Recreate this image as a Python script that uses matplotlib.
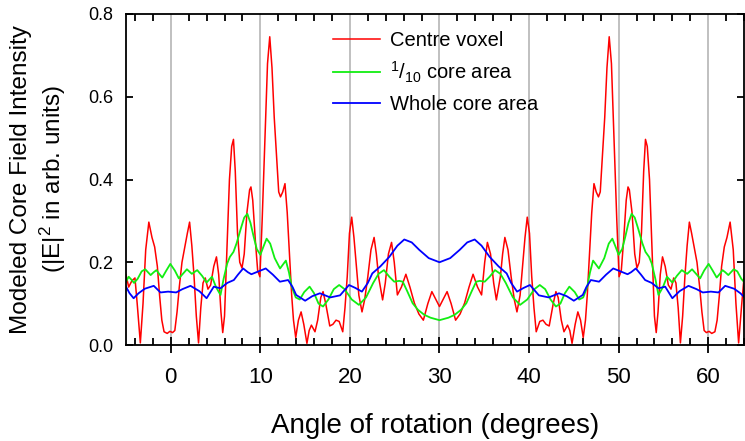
import matplotlib
matplotlib.use("Agg")
import matplotlib.pyplot as plt
from matplotlib.ticker import MultipleLocator

plt.rcParams['font.family'] = ['Liberation Sans', 'DejaVu Sans']
plt.rcParams['mathtext.default'] = 'regular'

# -----------------------------------
# DATA
# -----------------------------------
centre_x = [-5.0, -4.7, -4.35, -4.0, -3.75, -3.4, -3.1, -2.8, -2.45, -2.1, -1.8, -1.5, -1.25, -1.0,
            -0.75, -0.4, -0.1, 0.2, 0.45, 0.7, 0.95, 1.25, 1.55, 1.85, 2.1, 2.35, 2.6, 2.85, 3.1,
            3.35, 3.6, 3.85, 4.15, 4.45, 4.8, 5.1, 5.35, 5.6, 5.8, 6.0, 6.3, 6.55, 6.8, 7.0, 7.2,
            7.45, 7.7, 7.95, 8.2, 8.5, 8.8, 8.95, 9.15, 9.45, 9.7, 9.95, 10.2, 10.5, 10.8, 11.05,
            11.3, 11.55, 11.8, 12.05, 12.25, 12.5, 12.75, 13.0, 13.25, 13.5, 13.7, 13.95, 14.25,
            14.55, 14.85, 15.2, 15.45, 15.7, 16.1, 16.4, 16.75, 17.0, 17.3, 17.75, 18.1, 18.45,
            18.8, 19.2, 19.45, 19.7, 19.95, 20.2, 20.45, 20.7, 21.0, 21.35, 21.65, 22.0, 22.35,
            22.7, 22.95, 23.2, 23.65, 23.95, 24.3, 24.65, 24.95, 25.3, 25.75, 26.25, 26.7, 27.2,
            27.7, 28.2, 28.7, 29.15, 29.6, 30.0,
            30.4, 30.85, 31.3, 31.8, 32.3, 32.8, 33.3, 33.75, 34.25, 34.7, 35.05, 35.35, 35.7,
            36.05, 36.35, 36.8, 37.05, 37.3, 37.65, 38.0, 38.35, 38.65, 39.0, 39.3, 39.55, 39.8,
            40.05, 40.3, 40.55, 40.8, 41.2, 41.55, 41.9, 42.25, 42.7, 43.0, 43.25, 43.6, 43.9,
            44.3, 44.55, 44.8, 45.15, 45.45, 45.75, 46.05, 46.3, 46.5, 46.75, 47.0, 47.25, 47.5,
            47.75, 47.95, 48.2, 48.45, 48.7, 48.95, 49.2, 49.5, 49.8, 50.05, 50.3, 50.55, 50.85,
            51.05, 51.2, 51.5, 51.8, 52.05, 52.3, 52.55, 52.8, 53.0, 53.2, 53.45, 53.7, 54.0,
            54.2, 54.4, 54.65, 54.9, 55.2, 55.55, 55.85, 56.15, 56.4, 56.65, 56.9, 57.15, 57.4,
            57.65, 57.9, 58.15, 58.45, 58.75, 59.05, 59.3, 59.55, 59.8, 60.1, 60.4, 60.75, 61.0,
            61.25, 61.5, 61.8, 62.1, 62.45, 62.8, 63.1, 63.4, 63.75, 64.0, 64.35]
centre_y = [0.17, 0.14, 0.155, 0.162, 0.10, 0.005, 0.10, 0.23, 0.297, 0.26, 0.237, 0.19, 0.12, 0.06,
            0.032, 0.028, 0.033, 0.03, 0.035, 0.08, 0.14, 0.2, 0.235, 0.27, 0.297, 0.24, 0.165, 0.07,
            0.005, 0.09, 0.15, 0.162, 0.135, 0.145, 0.19, 0.213, 0.17, 0.08, 0.03, 0.07, 0.25, 0.4,
            0.48, 0.497, 0.42, 0.27, 0.2, 0.186, 0.22, 0.32, 0.375, 0.382, 0.35, 0.25, 0.18, 0.165,
            0.3, 0.488, 0.68, 0.745, 0.67, 0.55, 0.46, 0.37, 0.358, 0.37, 0.39, 0.32, 0.22, 0.12,
            0.06, 0.018, 0.06, 0.08, 0.05, 0.004, 0.035, 0.048, 0.032, 0.06, 0.115, 0.129, 0.1,
            0.046, 0.05, 0.06, 0.057, 0.032, 0.09, 0.165, 0.27, 0.309, 0.26, 0.195, 0.12, 0.08,
            0.11, 0.165, 0.23, 0.26, 0.22, 0.165, 0.109, 0.15, 0.22, 0.248, 0.2, 0.121, 0.14,
            0.171, 0.14, 0.101, 0.075, 0.06, 0.1, 0.129, 0.11, 0.093,
            0.11, 0.129, 0.1, 0.06, 0.075, 0.101, 0.14, 0.171, 0.14, 0.121, 0.2, 0.248, 0.22,
            0.15, 0.109, 0.165, 0.22, 0.26, 0.23, 0.165, 0.11, 0.08, 0.12, 0.195, 0.26, 0.309,
            0.27, 0.165, 0.09, 0.032, 0.057, 0.06, 0.05, 0.046, 0.1, 0.129, 0.115, 0.06, 0.032,
            0.048, 0.035, 0.004, 0.05, 0.08, 0.06, 0.018, 0.06, 0.12, 0.22, 0.32, 0.39, 0.37,
            0.358, 0.37, 0.46, 0.55, 0.67, 0.745, 0.68, 0.488, 0.3, 0.165, 0.18, 0.25, 0.35,
            0.382, 0.375, 0.32, 0.22, 0.186, 0.2, 0.27, 0.42, 0.497, 0.48, 0.4, 0.25, 0.07,
            0.03, 0.08, 0.17, 0.213, 0.19, 0.145, 0.135, 0.162, 0.15, 0.09, 0.005, 0.07, 0.165,
            0.24, 0.297, 0.27, 0.235, 0.2, 0.14, 0.08, 0.035, 0.03, 0.033, 0.028, 0.032, 0.06,
            0.12, 0.19, 0.237, 0.26, 0.297, 0.23, 0.10, 0.005, 0.10, 0.162, 0.155]

tenth_x = [-5.0, -4.7, -4.4, -4.1, -3.7, -3.25, -2.85, -2.55, -2.25, -1.9, -1.6, -1.3, -0.95, -0.5,
           -0.05, 0.45, 0.9, 1.35, 1.8, 2.35, 2.95, 3.5, 4.0, 4.6, 5.05, 5.55, 5.9, 6.3, 6.6, 7.0,
           7.35, 7.8, 8.2, 8.55, 8.9, 9.25, 9.6, 10.0, 10.35, 10.7, 11.1, 11.6, 12.2, 12.85, 13.2,
           13.5, 13.95, 14.4, 14.9, 15.5, 16.0, 16.5, 17.0, 17.6, 18.2, 18.8, 19.4, 20.2, 21.0,
           21.8, 22.6, 23.2, 23.8, 24.4, 24.95, 25.5, 25.9, 26.4, 27.0, 27.6, 28.3, 29.0, 30.0,
           31.0, 31.7, 32.4, 33.0, 33.6, 34.1, 34.5, 35.05, 35.6, 36.2, 36.8, 37.4, 38.2, 39.0,
           39.8, 40.6, 41.2, 41.8, 42.4, 43.0, 43.5, 44.0, 44.5, 45.1, 45.6, 46.05, 46.5, 46.8,
           47.15, 47.8, 48.4, 48.9, 49.3, 49.65, 50.0, 50.4, 50.75, 51.1, 51.45, 51.8, 52.2,
           52.65, 53.0, 53.4, 53.7, 54.1, 54.45, 54.95, 55.4, 56.0, 56.5, 57.05, 57.65, 58.2,
           58.65, 59.1, 59.55, 60.05, 60.5, 60.95, 61.3, 61.6, 61.9, 62.25, 62.55, 62.85, 63.25,
           63.7, 64.1]
tenth_y = [0.153, 0.165, 0.158, 0.15, 0.16, 0.178, 0.183, 0.176, 0.169, 0.176, 0.181, 0.172, 0.163,
           0.18, 0.196, 0.18, 0.161, 0.172, 0.183, 0.172, 0.181, 0.167, 0.151, 0.165, 0.14, 0.121,
           0.16, 0.197, 0.213, 0.225, 0.246, 0.28, 0.308, 0.317, 0.295, 0.262, 0.232, 0.218, 0.238,
           0.257, 0.245, 0.21, 0.185, 0.204, 0.175, 0.141, 0.115, 0.11, 0.128, 0.141, 0.125, 0.1,
           0.093, 0.11, 0.135, 0.145, 0.135, 0.11, 0.097, 0.115, 0.15, 0.172, 0.181, 0.165, 0.153,
           0.155, 0.153, 0.13, 0.101, 0.085, 0.073, 0.066, 0.06,
           0.066, 0.073, 0.085, 0.101, 0.13, 0.153, 0.155, 0.153, 0.165, 0.181, 0.172, 0.15,
           0.115, 0.097, 0.11, 0.135, 0.145, 0.135, 0.11, 0.093, 0.1, 0.125, 0.141, 0.128, 0.11,
           0.115, 0.141, 0.175, 0.204, 0.185, 0.21, 0.245, 0.257, 0.238, 0.218, 0.232, 0.262,
           0.295, 0.317, 0.308, 0.28, 0.246, 0.225, 0.213, 0.197, 0.16, 0.121, 0.14, 0.165,
           0.151, 0.167, 0.181, 0.172, 0.183, 0.172, 0.161, 0.18, 0.196, 0.18, 0.163, 0.172,
           0.181, 0.176, 0.169, 0.176, 0.183, 0.178, 0.16, 0.15]

whole_x = [-5.0, -4.6, -4.15, -3.6, -2.9, -1.9, -1.15, -0.3, 0.6, 1.3, 2.2, 3.2, 4.0, 4.8, 5.55,
           6.3, 7.04, 7.5, 8.08, 8.6, 9.0, 9.8, 10.6, 11.4, 12.18, 13.1, 13.6, 14.0, 15.0, 15.8,
           16.65, 17.8, 18.9, 19.9, 20.6, 21.34, 22.0, 22.5, 23.4, 24.4, 25.3, 26.07, 26.9, 27.74,
           28.8, 30.0, 31.2, 32.26, 33.1, 33.93, 34.7, 35.6, 36.6, 37.5, 38.0, 38.66, 39.4, 40.1,
           41.1, 42.2, 43.35, 44.2, 45.0, 46.0, 46.4, 46.9, 47.82, 48.6, 49.4, 50.2, 51.0, 51.4,
           51.92, 52.5, 52.96, 53.7, 54.45, 55.2, 56.0, 56.8, 57.8, 58.7, 59.4, 60.3, 61.15,
           61.9, 62.9, 63.6, 64.15]
whole_y = [0.141, 0.125, 0.113, 0.125, 0.136, 0.143, 0.127, 0.129, 0.127, 0.135, 0.143, 0.13, 0.113,
           0.141, 0.137, 0.15, 0.157, 0.17, 0.185, 0.176, 0.171, 0.178, 0.185, 0.17, 0.153, 0.157,
           0.14, 0.121, 0.107, 0.118, 0.125, 0.115, 0.12, 0.145, 0.138, 0.129, 0.15, 0.173, 0.19,
           0.213, 0.24, 0.255, 0.248, 0.23, 0.21, 0.2, 0.21, 0.23, 0.248, 0.255, 0.24, 0.213, 0.19,
           0.173, 0.15, 0.129, 0.138, 0.145, 0.12, 0.115, 0.125, 0.118, 0.107, 0.121, 0.14, 0.157,
           0.153, 0.17, 0.185, 0.178, 0.171, 0.176, 0.185, 0.17, 0.157, 0.15, 0.137, 0.141, 0.113,
           0.13, 0.143, 0.135, 0.127, 0.129, 0.127, 0.143, 0.136, 0.125, 0.113]

x_ticks = [0, 10, 20, 30, 40, 50, 60]
y_ticks = [0.0, 0.2, 0.4, 0.6, 0.8]

# -----------------------------------
# PLOT
# -----------------------------------
fig = plt.figure(figsize=(7.45, 4.41), dpi=100)
ax = fig.add_axes([126 / 745, 96 / 441, 618 / 745, 331 / 441])

for xt in x_ticks:
    ax.axvline(xt, color="#c0c0c0", lw=1.4, zorder=0)

ax.plot(centre_x, centre_y, color="#ff0000", lw=1.1, label="Centre voxel")
ax.plot(tenth_x, tenth_y, color="#11ee11", lw=1.3, label=r"$^{1}$/$_{10}$ core area")
ax.plot(whole_x, whole_y, color="#0000ff", lw=1.3, label="Whole core area")

ax.set_xlim(-5, 64)
ax.set_ylim(0, 0.8)
ax.set_xticks(x_ticks)
ax.set_yticks(y_ticks)
ax.xaxis.set_minor_locator(MultipleLocator(2))
ax.set_yticklabels(["0.0", "0.2", "0.4", "0.6", "0.8"])

for s in ax.spines.values():
    s.set_linewidth(1.3)

ax.tick_params(axis="x", which="major", direction="inout", length=12, width=1.3,
               top=False, pad=10, labelsize=16)
ax.tick_params(axis="x", which="minor", direction="in", length=5, width=1.3, top=True)
ax.tick_params(axis="y", which="major", direction="in", length=5, width=1.3,
               right=True, pad=9, labelsize=13)

ax.set_xlabel("Angle of rotation (degrees)", fontsize=20, labelpad=18)
ax.set_ylabel("Modeled Core Field Intensity\n" + r"(|E|$^{2}$ in arb. units)", fontsize=17.5,
              linespacing=1.25)
ax.yaxis.set_label_coords(-0.094, 0.5)

ax.legend(loc="upper left", bbox_to_anchor=(0.335, 0.95), frameon=False, fontsize=14.5,
          borderpad=0, borderaxespad=0, handlelength=2.35, handletextpad=0.5,
          labelspacing=0.5)

fig.savefig("out.png", dpi=100)
